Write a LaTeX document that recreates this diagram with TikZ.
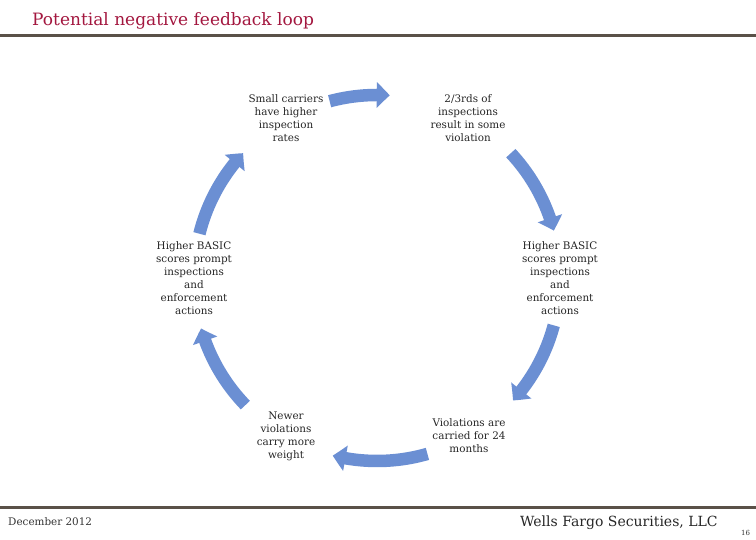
\documentclass[tikz,border=0pt]{standalone}
\usepackage{fontspec}
\setmainfont{DejaVu Serif}
\usetikzlibrary{arrows.meta,calc,bending}
\definecolor{arrowblue}{HTML}{6B8FD3}
\definecolor{titlered}{HTML}{A3173F}
\definecolor{rulegray}{HTML}{5A5148}
\begin{document}
\begin{tikzpicture}[x=1pt,y=1pt,
  lbl/.style={align=center,font=\fontsize{10.4}{13}\selectfont,inner sep=0pt,text=black!85},
  cyc/.style={draw=arrowblue,line width=12.5pt,-{Triangle[width=25pt,length=13pt,bend]}},
  rulestyle/.style={draw=rulegray,line width=3pt}]
\useasboundingbox (0,0) rectangle (756,540);
\coordinate (c) at (377,262);
% title and rules
\node[anchor=base west,inner sep=0pt,text=titlered,font=\fontsize{17}{20}\selectfont] (title) at (32,514) {Potential negative feedback loop};
\coordinate (tl) at (0,504);
\coordinate (tr) at (756,504);
\draw[rulestyle] (tl) -- (tr);
\coordinate (bl) at (0,32);
\coordinate (br) at (756,32);
\draw[rulestyle] (bl) -- (br);
% nodes
\node[lbl] (n1) at (286,422) {Small carriers\\have higher\\inspection\\rates};
\node[lbl] (n2) at (468,422) {2/3rds of\\inspections\\result in some\\violation};
\node[lbl] (n3) at (560,262) {Higher BASIC\\scores prompt\\inspections\\and\\enforcement\\actions};
\node[lbl] (n4) at (469,104) {Violations are\\carried for 24\\months};
\node[lbl] (n5) at (286,104) {Newer\\violations\\carry more\\weight};
\node[lbl] (n6) at (194,262) {Higher BASIC\\scores prompt\\inspections\\and\\enforcement\\actions};
% arrows
\coordinate (a1) at ($(c)+(105:183)$);
\coordinate (a2) at ($(c)+(43:183)$);
\coordinate (a3) at ($(c)+(-15:183)$);
\coordinate (a4) at ($(c)+(-74:183)$);
\coordinate (a5) at ($(c)+(-136:183)$);
\coordinate (a6) at ($(c)+(166:183)$);
\draw[cyc] (a1) arc[start angle=105,end angle=86,radius=183];
\draw[cyc] (a2) arc[start angle=43,end angle=15,radius=183];
\draw[cyc] (a3) arc[start angle=-15,end angle=-42,radius=183];
\draw[cyc] (a4) arc[start angle=-74,end angle=-104,radius=183];
\draw[cyc] (a5) arc[start angle=-136,end angle=-164,radius=183];
\draw[cyc] (a6) arc[start angle=166,end angle=137,radius=183];
% footer
\node[anchor=base west,inner sep=0pt,font=\fontsize{10.4}{12}\selectfont,text=black!80] (date) at (8,14) {December 2012};
\node[anchor=base west,inner sep=0pt,font=\fontsize{14}{16}\selectfont,text=black!85] (wf) at (520,13) {Wells Fargo Securities, LLC};
\node[anchor=base west,inner sep=0pt,font=\fontsize{7}{8}\selectfont,text=black!80] (pg) at (741,4) {16};
\end{tikzpicture}
\end{document}
